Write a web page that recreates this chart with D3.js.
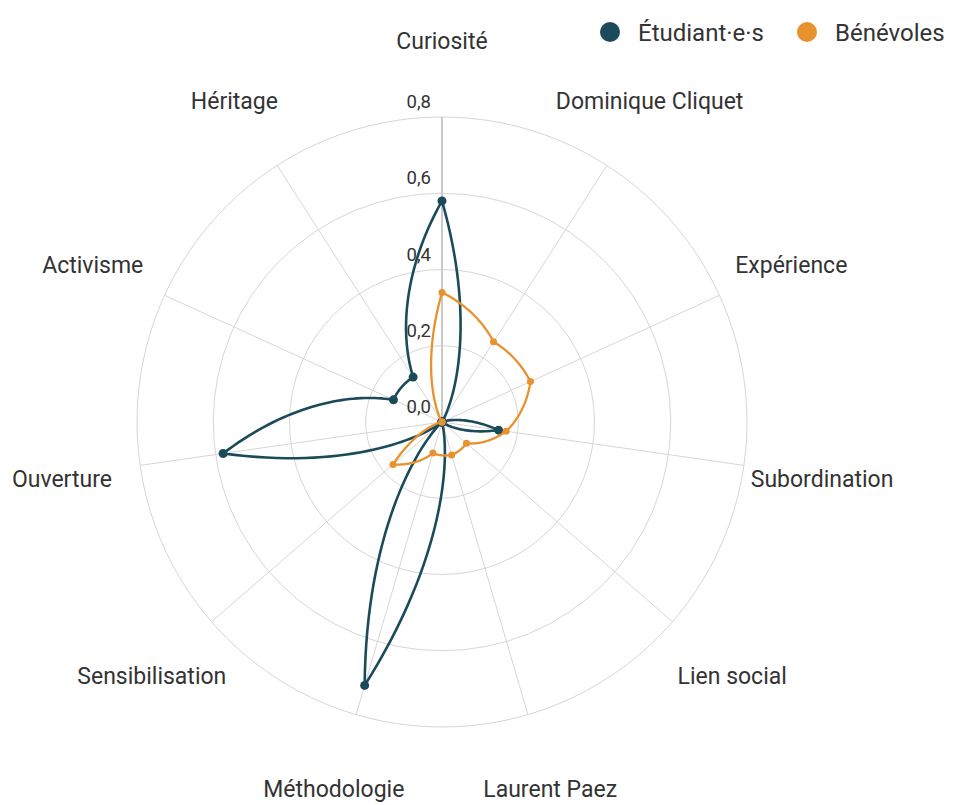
<!DOCTYPE html>
<html>
<head>
<meta charset="utf-8">
<script src="https://cdn.jsdelivr.net/npm/d3@7"></script>
<style>
  body { margin: 0; background: #fff; }
  svg { font-family: Roboto, sans-serif; }
</style>
</head>
<body>
<div id="radar"></div>
<script>
// axes, clockwise from the top
var categories = ["Curiosité", "Dominique Cliquet", "Expérience", "Subordination", "Lien social",
    "Laurent Paez", "Méthodologie", "Sensibilisation", "Ouverture", "Activisme", "Héritage"];
var etudiants = [0.58, 0, 0, 0.15, 0, 0, 0.72, 0, 0.58, 0.14, 0.14];
var benevoles = [0.34, 0.25, 0.255, 0.17, 0.085, 0.09, 0.085, 0.17, 0, 0, 0];
var ticks = [0, 0.2, 0.4, 0.6, 0.8];
var seriesNames = ["Étudiant·e·s", "Bénévoles"];

var width = 959, height = 805;
var cx = 442, cy = 422, radius = 305;

var svg = d3.select("#radar").append("svg")
    .attr("width", width)
    .attr("height", height);

var g = svg.append("g")
    .attr("transform", "translate(" + cx + "," + cy + ")");

var r = d3.scaleLinear().domain([0, 0.8]).range([0, radius]);
var angle = d3.scaleLinear().domain([0, categories.length]).range([0, 2 * Math.PI]);
var color = d3.scaleOrdinal().domain(seriesNames).range(["#1b4b5a", "#e8922e"]);
var fmt = d3.formatLocale({ decimal: ",", thousands: " ", grouping: [3], currency: ["", " €"] }).format(".1f");

function px(a, d) { return d * Math.sin(a); }
function py(a, d) { return -d * Math.cos(a); }

// grid circles
g.selectAll(".ring")
    .data(ticks.slice(1))
    .enter().append("circle")
    .attr("r", function (d) { return r(d); })
    .attr("fill", "none")
    .attr("stroke", "#d6d6d6")
    .attr("stroke-width", 1);

// spokes
g.selectAll(".spoke")
    .data(categories)
    .enter().append("line")
    .attr("x1", 0).attr("y1", 0)
    .attr("x2", function (d, i) { return px(angle(i), r(0.8)); })
    .attr("y2", function (d, i) { return py(angle(i), r(0.8)); })
    .attr("stroke", function (d, i) { return i === 0 ? "#cacaca" : "#d6d6d6"; })
    .attr("stroke-width", function (d, i) { return i === 0 ? 2 : 1; });

// category labels (kept inside the frame at the bottom)
g.selectAll(".cat")
    .data(categories)
    .enter().append("text")
    .attr("x", function (d, i) { return px(angle(i), 384); })
    .attr("y", function (d, i) { return Math.min(py(angle(i), 384) + 3, height - cy - 16); })
    .attr("text-anchor", "middle")
    .attr("dominant-baseline", "central")
    .attr("font-size", 23)
    .attr("fill", "#333")
    .text(function (d) { return d; });

// radial tick labels
g.selectAll(".tick")
    .data(ticks)
    .enter().append("text")
    .attr("x", -11)
    .attr("y", function (d) { return -r(d) - 9; })
    .attr("text-anchor", "end")
    .attr("font-size", 18.5)
    .attr("fill", "#333")
    .text(function (d) { return fmt(d); });

// lines run in polar space between neighbouring axes,
// radius eased on a square-root scale
function polarPath(values) {
    var pts = [], steps = 40;
    values.forEach(function (v, i) {
        var next = values[(i + 1) % values.length];
        var a0 = Math.sqrt(v), a1 = Math.sqrt(next);
        for (var k = 0; k < steps; k++) {
            var t = k / steps, q = a0 + (a1 - a0) * t;
            pts.push({ a: angle(i + t), v: q * q });
        }
    });
    return pts;
}

var line = d3.lineRadial()
    .angle(function (d) { return d.a; })
    .radius(function (d) { return r(d.v); })
    .curve(d3.curveLinearClosed);

var series = [
    { name: seriesNames[0], values: etudiants, dot: 4.5, width: 2.6 },
    { name: seriesNames[1], values: benevoles, dot: 3.5, width: 2.3 }
];

series.forEach(function (s) {
    g.append("path")
        .datum(polarPath(s.values))
        .attr("d", line)
        .attr("fill", "none")
        .attr("stroke", color(s.name))
        .attr("stroke-width", s.width)
        .attr("stroke-linejoin", "round");

    g.selectAll(null)
        .data(s.values)
        .enter().append("circle")
        .attr("cx", function (d, i) { return px(angle(i), r(d)); })
        .attr("cy", function (d, i) { return py(angle(i), r(d)); })
        .attr("r", s.dot)
        .attr("fill", color(s.name));
});

// legend
var legend = svg.append("g")
    .attr("transform", "translate(610,32)");

var item = legend.selectAll(".item")
    .data(seriesNames)
    .enter().append("g")
    .attr("transform", function (d, i) { return "translate(" + (i * 197) + ",0)"; });

item.append("circle")
    .attr("r", 10)
    .attr("fill", function (d) { return color(d); });

item.append("text")
    .attr("x", 28)
    .attr("y", 8.5)
    .attr("font-size", 24)
    .attr("fill", "#333")
    .text(function (d) { return d; });
</script>
</body>
</html>
